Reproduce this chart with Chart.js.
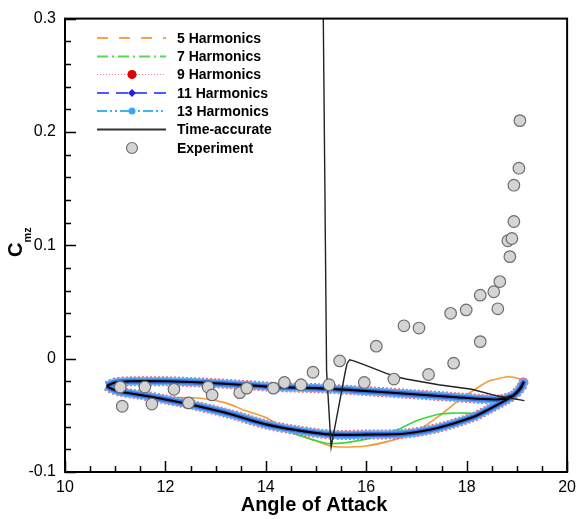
<!DOCTYPE html>
<html>
<head>
<meta charset="utf-8">
<script src="https://cdn.jsdelivr.net/npm/chart.js@4.4.1/dist/chart.umd.min.js"></script>
<style>
  html, body { margin: 0; padding: 0; background: #fff; }
</style>
</head>
<body>
<canvas id="chart" width="582" height="519"></canvas>
<script>
const FONT = '"Liberation Sans", Arial, Helvetica, sans-serif';

// converged cycle: upper branch left -> right, then lower branch back to the left tip
const loopAlpha = [10.83, 11.0, 11.3, 12.0, 12.7, 13.5, 14.2, 15.0, 15.8, 16.8, 17.8, 18.6, 18.9, 19.05, 19.13,
  19.08, 18.95, 18.76, 18.43, 18.1, 17.44, 16.8, 16.0, 15.3, 14.6, 14.0, 13.3, 12.65, 12.0, 11.5, 11.08, 10.9, 10.83];
const loopCm = [-0.024, -0.021, -0.020, -0.020, -0.021, -0.023, -0.025, -0.026, -0.028, -0.031, -0.034, -0.036, -0.033, -0.027, -0.021,
  -0.026, -0.032, -0.037, -0.045, -0.052, -0.061, -0.066, -0.067, -0.067, -0.063, -0.058, -0.049, -0.042, -0.036, -0.032, -0.029, -0.026, -0.024];

// 5 harmonics, lower branch (upper branch sits under the other curves)
const h5Alpha = [19.13, 19.06, 18.82, 18.6, 18.43, 18.1, 17.78, 17.44, 17.0, 16.6, 16.0, 15.5, 15.28, 14.9, 14.43, 14.0, 13.6, 13.2, 12.7, 12.0, 11.5, 10.95, 10.83];
const h5Cm = [-0.021, -0.018, -0.016, -0.018, -0.020, -0.029, -0.039, -0.051, -0.064, -0.071, -0.077, -0.078, -0.077, -0.071, -0.063, -0.052, -0.046, -0.039, -0.035, -0.034, -0.032, -0.028, -0.024];

// 7 harmonics, lower branch
const h7Alpha = [19.13, 19.0, 18.76, 18.5, 18.23, 17.78, 17.44, 16.99, 16.6, 16.0, 15.28, 14.9, 14.43, 14.0, 13.44, 13.0, 12.5, 12.0, 11.5, 11.0, 10.83];
const h7Cm = [-0.019, -0.028, -0.037, -0.045, -0.048, -0.048, -0.049, -0.055, -0.063, -0.071, -0.075, -0.071, -0.064, -0.056, -0.048, -0.044, -0.040, -0.036, -0.032, -0.028, -0.024];

// time-accurate start-up transient
const transAlpha = [15.14, 15.21, 15.30, 15.58, 15.62, 15.67, 15.75, 15.94, 16.4, 16.6, 16.79, 17.44, 18.1, 18.62, 19.15];
const transCm = [0.32, -0.011, -0.078, -0.012, -0.004, -0.001, -0.002, -0.005, -0.013, -0.016, -0.018, -0.023, -0.027, -0.033, -0.037];

// experiment
const expAlpha = [11.10, 11.14, 11.59, 11.73, 12.17, 12.46, 12.85, 12.93, 13.48, 13.62, 14.15, 14.37, 14.70, 14.94, 15.26, 15.47, 15.96, 16.20, 16.55,
  16.75, 17.05, 17.24, 17.74, 17.68, 17.99, 18.27, 18.27, 18.54, 18.62, 18.66, 18.86, 18.82, 18.90, 18.94, 18.94, 19.04, 19.06];
const expCm = [-0.025, -0.042, -0.025, -0.040, -0.027, -0.039, -0.025, -0.032, -0.030, -0.026, -0.026, -0.021, -0.023, -0.012, -0.023, -0.002, -0.021, 0.011, -0.018,
  0.029, 0.027, -0.014, -0.004, 0.040, 0.043, 0.015, 0.056, 0.059, 0.044, 0.068, 0.090, 0.104, 0.106, 0.121, 0.153, 0.168, 0.210];

const legendLabels = ["5 Harmonics", "7 Harmonics", "9 Harmonics", "11 Harmonics", "13 Harmonics", "Time-accurate", "Experiment"];

function pts(xs, ys) {
  return xs.map((x, i) => ({ x: x, y: ys[i] }));
}

function lineSet(label, xs, ys, color, width, order, extra) {
  return Object.assign({
    label: label,
    data: pts(xs, ys),
    showLine: true,
    borderColor: color,
    backgroundColor: color,
    borderWidth: width,
    pointRadius: 0,
    tension: 0.3,
    fill: false,
    order: order,
  }, extra || {});
}

const framePlugin = {
  id: "frame",
  afterDraw(chart) {
    const ctx = chart.ctx;
    const a = chart.chartArea;
    const xs = chart.scales.x, ys = chart.scales.y;
    ctx.save();
    ctx.strokeStyle = "#000";
    ctx.lineWidth = 1.5;
    // inward ticks on bottom and left axes
    ctx.beginPath();
    for (let v = 10; v <= 20.001; v += 0.5) {
      const px = Math.round(xs.getPixelForValue(v)) + 0.5;
      const len = Math.abs(v % 2) < 0.01 ? 11 : 6;
      ctx.moveTo(px, a.bottom);
      ctx.lineTo(px, a.bottom - len);
    }
    for (let i = 0; i <= 20; i++) {
      const v = -0.1 + i * 0.02;
      const py = Math.round(ys.getPixelForValue(v)) + 0.5;
      const len = i % 5 === 0 ? 11 : 6;
      ctx.moveTo(a.left, py);
      ctx.lineTo(a.left + len, py);
    }
    ctx.stroke();
    ctx.lineWidth = 2;
    ctx.strokeRect(a.left, a.top, a.right - a.left, a.bottom - a.top);

    // axis titles
    ctx.fillStyle = "#000";
    ctx.font = "bold 20px " + FONT;
    ctx.textAlign = "center";
    ctx.textBaseline = "middle";
    ctx.fillText("Angle of Attack", (a.left + a.right) / 2 - 2, 505);

    ctx.translate(22, 257);
    ctx.rotate(-Math.PI / 2);
    ctx.textAlign = "left";
    ctx.textBaseline = "alphabetic";
    ctx.font = "bold 20px " + FONT;
    ctx.fillText("C", 0, 0);
    const cw = ctx.measureText("C").width;
    ctx.font = "bold 11px " + FONT;
    ctx.fillText("mz", cw, 9);
    ctx.restore();

    drawLegend(ctx);
  }
};

function drawLegend(ctx) {
  const x0 = 97, x1 = 166, xm = 132, tx = 177;
  const rows = [38, 56.5, 74.5, 93, 111, 129.5, 148];
  const styles = [
    { color: "#f7a54c", dash: [11, 11], w: 2 },
    { color: "#4fdc4f", dash: [11, 4, 2, 4], w: 2 },
    { color: "#f08a98", dash: [1, 2], w: 1, marker: "circle", mcolor: "#e00000", mr: 4.5 },
    { color: "#4a5cff", dash: [12, 7], w: 2, marker: "diamond", mcolor: "#2020e0", mr: 4 },
    { color: "#3fb4f5", dash: [10, 3, 2, 3, 2, 3], w: 2, marker: "circle", mcolor: "#3aa8f0", mr: 3.5 },
    { color: "#333", dash: [], w: 2 },
    null
  ];
  ctx.save();
  styles.forEach((s, i) => {
    const y = rows[i];
    if (s) {
      ctx.setLineDash(s.dash);
      ctx.strokeStyle = s.color;
      ctx.lineWidth = s.w;
      ctx.beginPath();
      ctx.moveTo(x0, y);
      ctx.lineTo(x1, y);
      ctx.stroke();
      ctx.setLineDash([]);
      if (s.marker === "circle") {
        ctx.fillStyle = s.mcolor;
        ctx.beginPath();
        ctx.arc(xm, y, s.mr, 0, Math.PI * 2);
        ctx.fill();
      } else if (s.marker === "diamond") {
        ctx.fillStyle = s.mcolor;
        ctx.beginPath();
        ctx.moveTo(xm, y - s.mr);
        ctx.lineTo(xm + s.mr, y);
        ctx.lineTo(xm, y + s.mr);
        ctx.lineTo(xm - s.mr, y);
        ctx.closePath();
        ctx.fill();
      }
    } else {
      ctx.fillStyle = "#d4d4d4";
      ctx.strokeStyle = "#6e6e6e";
      ctx.lineWidth = 1.2;
      ctx.beginPath();
      ctx.arc(xm, y, 5.5, 0, Math.PI * 2);
      ctx.fill();
      ctx.stroke();
    }
    ctx.fillStyle = "#000";
    ctx.font = "bold 14px " + FONT;
    ctx.textAlign = "left";
    ctx.textBaseline = "middle";
    ctx.fillText(legendLabels[i], tx, y + 1);
  });
  ctx.restore();
}

const ctx = document.getElementById("chart").getContext("2d");
new Chart(ctx, {
  type: "scatter",
  data: {
    datasets: [
      lineSet(legendLabels[0], h5Alpha, h5Cm, "#f39a3a", 1.6, 8),
      lineSet(legendLabels[1], h7Alpha, h7Cm, "#3ad83a", 1.6, 7),
      lineSet(legendLabels[2], loopAlpha, loopCm, "rgba(230,70,100,0.85)", 10, 6, { borderDash: [2, 2] }),
      lineSet(legendLabels[4], loopAlpha, loopCm, "#5fb0f2", 8, 5),
      lineSet(legendLabels[3], loopAlpha, loopCm, "#3e6ee4", 5, 4),
      lineSet(legendLabels[5], loopAlpha, loopCm, "#000", 2.1, 3),
      lineSet(legendLabels[5], transAlpha, transCm, "#222", 1.4, 2, { tension: 0 }),
      {
        label: legendLabels[6],
        data: pts(expAlpha, expCm),
        showLine: false,
        pointRadius: 5.8,
        pointBackgroundColor: "#d4d4d4",
        pointBorderColor: "#6e6e6e",
        pointBorderWidth: 1.2,
        order: 1,
      },
    ],
  },
  options: {
    responsive: false,
    animation: false,
    layout: { padding: { left: 0, right: 11, top: 12, bottom: 0 } },
    plugins: {
      legend: { display: false },
      tooltip: { enabled: false },
    },
    scales: {
      x: {
        type: "linear",
        min: 10,
        max: 20,
        afterFit(scale) { scale.height = 47; },
        grid: { display: false, drawTicks: false },
        border: { display: false },
        ticks: {
          stepSize: 2,
          padding: 6,
          color: "#000",
          font: { family: FONT, size: 16 },
          maxRotation: 0,
          autoSkip: false,
        },
      },
      y: {
        type: "linear",
        min: -0.1,
        max: 0.3,
        afterFit(scale) { scale.width = 65; },
        grid: { display: false, drawTicks: false },
        border: { display: false },
        ticks: {
          stepSize: 0.1,
          padding: 9,
          color: "#000",
          font: { family: FONT, size: 16 },
          autoSkip: false,
          callback: (v) => (Math.abs(v) < 1e-9 ? "0" : String(Math.round(v * 10) / 10)),
        },
      },
    },
  },
  plugins: [framePlugin],
});
</script>
</body>
</html>
